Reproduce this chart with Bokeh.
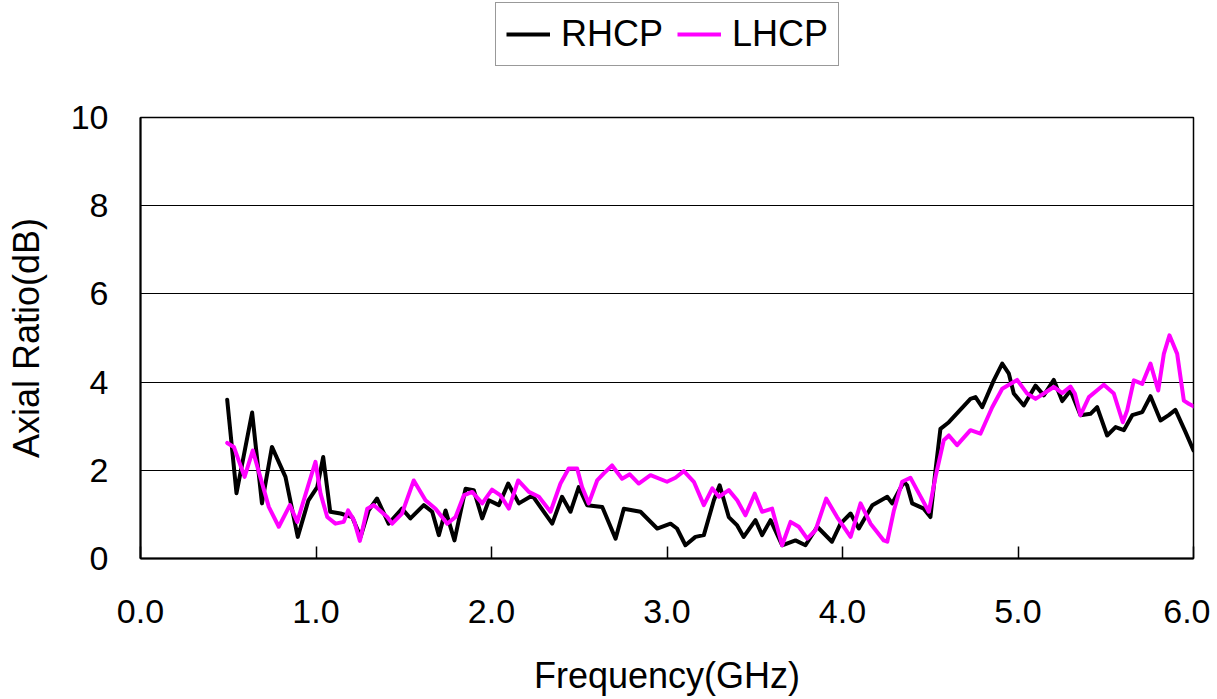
from bokeh.plotting import figure
from bokeh.models import Legend, LegendItem, FixedTicker, Range1d
from bokeh.layouts import column
from bokeh.embed import file_html
from bokeh.resources import INLINE

# ---- data ----
rhcp_freq = [0.494, 0.547, 0.636, 0.692, 0.749, 0.826, 0.896, 0.957, 1.007, 1.041,
             1.081, 1.14, 1.206, 1.254, 1.30, 1.348, 1.414, 1.49, 1.538, 1.614,
             1.662, 1.70, 1.738, 1.789, 1.852, 1.899, 1.947, 1.985, 2.042, 2.095,
             2.156, 2.232, 2.346, 2.402, 2.45, 2.497, 2.545, 2.631, 2.707, 2.754,
             2.849, 2.944, 3.02, 3.057, 3.105, 3.162, 3.21, 3.267, 3.30, 3.352,
             3.40, 3.437, 3.504, 3.542, 3.59, 3.656, 3.732, 3.789, 3.856, 3.94,
             3.989, 4.046, 4.093, 4.17, 4.255, 4.283, 4.35, 4.368, 4.397, 4.463,
             4.501, 4.53, 4.558, 4.606, 4.729, 4.758, 4.796, 4.862, 4.91, 4.948,
             4.976, 5.033, 5.10, 5.147, 5.204, 5.252, 5.299, 5.356, 5.413, 5.451,
             5.508, 5.556, 5.603, 5.651, 5.708, 5.755, 5.812, 5.859, 5.897, 5.954,
             6.0]
rhcp_ar = [3.60, 1.48, 3.31, 1.25, 2.53, 1.85, 0.49, 1.32, 1.62, 2.30,
           1.06, 1.02, 0.94, 0.49, 1.09, 1.36, 0.79, 1.13, 0.91, 1.21,
           1.06, 0.53, 1.09, 0.41, 1.58, 1.55, 0.91, 1.32, 1.21, 1.70,
           1.25, 1.43, 0.79, 1.40, 1.06, 1.62, 1.21, 1.17, 0.45, 1.13,
           1.06, 0.68, 0.79, 0.68, 0.30, 0.49, 0.53, 1.32, 1.66, 0.94,
           0.75, 0.49, 0.87, 0.53, 0.87, 0.30, 0.41, 0.30, 0.72, 0.38,
           0.79, 1.02, 0.68, 1.21, 1.40, 1.25, 1.74, 1.66, 1.25, 1.13,
           0.94, 2.00, 2.94, 3.09, 3.62, 3.66, 3.43, 4.04, 4.42, 4.19,
           3.74, 3.47, 3.92, 3.70, 4.05, 3.57, 3.81, 3.25, 3.28, 3.43,
           2.79, 2.98, 2.91, 3.25, 3.32, 3.68, 3.13, 3.25, 3.37, 2.87,
           2.45]

lhcp_freq = [0.494, 0.532, 0.593, 0.64, 0.664, 0.731, 0.788, 0.851, 0.893, 0.959,
             0.997, 1.026, 1.064, 1.111, 1.158, 1.183, 1.216, 1.25, 1.292, 1.33,
             1.406, 1.434, 1.49, 1.557, 1.624, 1.681, 1.748, 1.795, 1.842, 1.89,
             1.947, 2.003, 2.051, 2.099, 2.152, 2.213, 2.27, 2.336, 2.393, 2.44,
             2.488, 2.516, 2.554, 2.602, 2.64, 2.687, 2.744, 2.788, 2.839, 2.906,
             3.0, 3.048, 3.096, 3.153, 3.21, 3.258, 3.296, 3.352, 3.40, 3.447,
             3.50, 3.542, 3.599, 3.656, 3.704, 3.751, 3.799, 3.846, 3.907, 3.969,
             4.046, 4.103, 4.16, 4.235, 4.255, 4.293, 4.34, 4.387, 4.425, 4.492,
             4.53, 4.577, 4.606, 4.653, 4.729, 4.786, 4.853, 4.91, 4.995, 5.052,
             5.10, 5.204, 5.252, 5.299, 5.324, 5.356, 5.404, 5.489, 5.546, 5.597,
             5.622, 5.66, 5.708, 5.755, 5.799, 5.831, 5.863, 5.907, 5.945, 5.973,
             6.0]
lhcp_ar = [2.62, 2.53, 1.85, 2.45, 2.11, 1.17, 0.72, 1.21, 0.83, 1.70,
           2.19, 1.47, 0.94, 0.79, 0.83, 1.09, 0.87, 0.40, 1.13, 1.21,
           0.94, 0.79, 1.02, 1.77, 1.32, 1.13, 0.79, 0.94, 1.43, 1.51,
           1.25, 1.56, 1.43, 1.13, 1.77, 1.51, 1.40, 1.06, 1.70, 2.04,
           2.04, 1.62, 1.25, 1.77, 1.93, 2.11, 1.81, 1.91, 1.70, 1.89,
           1.74, 1.83, 1.98, 1.74, 1.21, 1.59, 1.40, 1.55, 1.32, 0.98,
           1.47, 1.06, 1.13, 0.30, 0.83, 0.72, 0.45, 0.64, 1.36, 0.94,
           0.49, 1.25, 0.79, 0.41, 0.38, 1.09, 1.74, 1.83, 1.55, 1.06,
           1.85, 2.68, 2.79, 2.57, 2.91, 2.83, 3.43, 3.85, 4.05, 3.74,
           3.62, 3.89, 3.75, 3.90, 3.74, 3.25, 3.66, 3.94, 3.74, 3.09,
           3.36, 4.04, 3.96, 4.42, 3.81, 4.64, 5.06, 4.64, 3.58, 3.51,
           3.45]

series_names = ["RHCP", "LHCP"]
series_colors = ["black", "#FF00FF"]

x_ticks = [0, 1, 2, 3, 4, 5, 6]
x_tick_labels = ["0.0", "1.0", "2.0", "3.0", "4.0", "5.0", "6.0"]
y_ticks = [0, 2, 4, 6, 8, 10]
y_tick_labels = ["0", "2", "4", "6", "8", "10"]

FONT = "Liberation Sans"
W = 1210
TOP_H = 87

# ---------------- main chart ----------------
p = figure(width=W, height=699 - TOP_H,
           min_border_left=140, min_border_right=17,
           min_border_top=30, min_border_bottom=141,
           x_range=Range1d(0, 6), y_range=Range1d(0, 10),
           output_backend="svg", toolbar_location=None,
           background_fill_color="white", border_fill_color="white")

p.outline_line_color = "black"
p.outline_line_width = 1.5

r1 = p.line(rhcp_freq, rhcp_ar, line_color=series_colors[0], line_width=4,
            line_join="round", line_cap="round")
r2 = p.line(lhcp_freq, lhcp_ar, line_color=series_colors[1], line_width=4,
            line_join="round", line_cap="round")

p.xgrid.visible = False
p.ygrid.ticker = FixedTicker(ticks=y_ticks)
p.ygrid.grid_line_color = "black"
p.ygrid.grid_line_width = 1

xa = p.xaxis[0]
xa.ticker = FixedTicker(ticks=x_ticks)
xa.major_label_overrides = {t: l for t, l in zip(x_ticks, x_tick_labels)}
xa.axis_line_color = "black"
xa.axis_line_width = 2
xa.major_tick_in = 12
xa.major_tick_out = 0
xa.major_tick_line_color = "black"
xa.major_tick_line_width = 1.5
xa.minor_tick_line_color = None
xa.major_label_text_font = FONT
xa.major_label_text_font_size = "34px"
xa.major_label_text_color = "black"
xa.major_label_standoff = 41
xa.axis_label = "Frequency(GHz)"
xa.axis_label_text_font = FONT
xa.axis_label_text_font_size = "36px"
xa.axis_label_text_font_style = "normal"
xa.axis_label_text_color = "black"
xa.axis_label_standoff = 29

ya = p.yaxis[0]
ya.ticker = FixedTicker(ticks=y_ticks)
ya.major_label_overrides = {t: l for t, l in zip(y_ticks, y_tick_labels)}
ya.axis_line_color = "black"
ya.axis_line_width = 2
ya.major_tick_in = 0
ya.major_tick_out = 0
ya.minor_tick_line_color = None
ya.major_label_text_font = FONT
ya.major_label_text_font_size = "34px"
ya.major_label_text_color = "black"
ya.major_label_standoff = 32
ya.axis_label = "Axial Ratio(dB)"
ya.axis_label_text_font = FONT
ya.axis_label_text_font_size = "36px"
ya.axis_label_text_font_style = "normal"
ya.axis_label_text_color = "black"
ya.axis_label_standoff = 21

# ---------------- legend strip on top ----------------
t = figure(width=W, height=TOP_H, min_border=0,
           x_range=Range1d(0, 1), y_range=Range1d(0, 1),
           output_backend="svg", toolbar_location=None,
           background_fill_color="white", border_fill_color="white")
t.outline_line_color = None
t.axis.visible = False
t.grid.visible = False
# legend proxies, kept outside the visible range of this strip
lr = [t.line([-2, -1], [-2, -2], line_color=c, line_width=4) for c in series_colors]

legend = Legend(items=[LegendItem(label=n, renderers=[r]) for n, r in zip(series_names, lr)],
                orientation="horizontal", location=(355, TOP_H - 66))
legend.label_text_font = FONT
legend.label_text_font_size = "36px"
legend.label_text_color = "black"
legend.glyph_width = 44
legend.glyph_height = 30
legend.label_standoff = 11
legend.spacing = 14
legend.padding = 10
legend.margin = 0
legend.border_line_color = "#333333"
legend.border_line_width = 1.5
legend.background_fill_color = "white"
legend.background_fill_alpha = 1.0
t.add_layout(legend, "center")

layout = column(t, p, spacing=0)
open("out.html", "w").write(file_html(layout, INLINE))
